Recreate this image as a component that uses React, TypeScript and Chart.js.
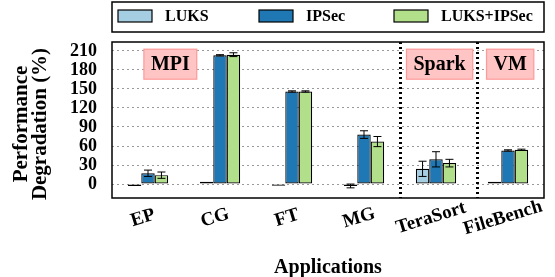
import React, { useEffect, useRef } from "react";
import { Chart, registerables } from "chart.js";

Chart.register(...registerables);

const categories = ["EP", "CG", "FT", "MG", "TeraSort", "FileBench"];
const seriesNames = ["LUKS", "IPSec", "LUKS+IPSec"];
const luksValues = [-3, 3.5, -2.5, -3, 24, 3.5];
const ipsecValues = [17, 203, 146, 78, 39, 53];
const bothValues = [14, 204, 146, 67, 33, 54];
const luksErrors = [0, 0, 0, 3, 12, 0];
const ipsecErrors = [5, 1, 1, 6, 12, 1];
const bothErrors = [5, 3, 1, 8, 6, 1];
const yTicks = [0, 30, 60, 90, 120, 150, 180, 210];
const groupLabels = ["MPI", "Spark", "VM"];
const groupLabelX = [0.31, 4.05, 5.03];
const groupLabelY = 189;
const dividerX = [3.5, 4.57];

const colors = ["#a6cee3", "#1f78b4", "#b2df8a"];
const FONT = "'Liberation Serif', 'Times New Roman', serif";

export default function App() {
  const ref = useRef<HTMLCanvasElement | null>(null);
  useEffect(() => {
    const canvas = ref.current;
    if (!canvas) return;
    const errors = [luksErrors, ipsecErrors, bothErrors];

    const custom = {
      id: "custom",
      afterDatasetsDraw(chart: any) {
        const ctx = chart.ctx;
        const y = chart.scales.y;
        ctx.save();
        ctx.strokeStyle = "#000";
        ctx.lineWidth = 1;
        chart.data.datasets.forEach((ds: any, di: number) => {
          const meta = chart.getDatasetMeta(di);
          meta.data.forEach((bar: any, i: number) => {
            const e = errors[di][i];
            if (!e) return;
            const v = ds.data[i];
            const y1 = y.getPixelForValue(v - e);
            const y2 = y.getPixelForValue(v + e);
            const x = bar.x;
            ctx.beginPath();
            ctx.moveTo(x, y1);
            ctx.lineTo(x, y2);
            ctx.moveTo(x - 4, y1);
            ctx.lineTo(x + 4, y1);
            ctx.moveTo(x - 4, y2);
            ctx.lineTo(x + 4, y2);
            ctx.stroke();
          });
        });
        ctx.restore();
      },
      afterDraw(chart: any) {
        const ctx = chart.ctx;
        const a = chart.chartArea;
        const xs = chart.scales.x;
        const ys = chart.scales.y;
        ctx.save();
        // dividers
        ctx.strokeStyle = "#000";
        ctx.lineWidth = 3;
        ctx.setLineDash([2, 3]);
        dividerX.forEach((v) => {
          const px = Math.round(xs.getPixelForValue(v)) + 0.5;
          ctx.beginPath();
          ctx.moveTo(px, a.top);
          ctx.lineTo(px, a.bottom);
          ctx.stroke();
        });
        ctx.setLineDash([]);
        // plot border
        ctx.lineWidth = 1.5;
        ctx.strokeRect(a.left, a.top, a.right - a.left, a.bottom - a.top);
        // group labels
        ctx.font = `bold 20px ${FONT}`;
        ctx.textAlign = "center";
        ctx.textBaseline = "middle";
        groupLabels.forEach((t, i) => {
          const cx = xs.getPixelForValue(groupLabelX[i]);
          const cy = ys.getPixelForValue(groupLabelY);
          const w = ctx.measureText(t).width + 14;
          const h = 30;
          ctx.fillStyle = "#ffc4c4";
          ctx.fillRect(cx - w / 2, cy - h / 2, w, h);
          ctx.strokeStyle = "#ff9a9a";
          ctx.lineWidth = 1.2;
          ctx.strokeRect(cx - w / 2, cy - h / 2, w, h);
          ctx.fillStyle = "#000";
          ctx.fillText(t, cx, cy + 1);
        });
        // x tick labels
        ctx.font = `bold 19px ${FONT}`;
        ctx.fillStyle = "#000";
        categories.forEach((c, i) => {
          const px = xs.getPixelForValue(i) - 5;
          ctx.save();
          ctx.translate(px, 218);
          ctx.rotate((-17 * Math.PI) / 180);
          ctx.textAlign = "center";
          ctx.textBaseline = "middle";
          ctx.fillText(c, 0, 0);
          ctx.restore();
        });
        // x title
        ctx.font = `bold 20px ${FONT}`;
        ctx.textAlign = "center";
        ctx.textBaseline = "middle";
        ctx.fillText("Applications", (a.left + a.right) / 2, 268);
        // y title
        ctx.save();
        ctx.translate(0, (a.top + a.bottom) / 2 + 4);
        ctx.rotate(-Math.PI / 2);
        ctx.font = `bold 21px ${FONT}`;
        ctx.fillText("Performance", 0, 22);
        ctx.fillText("Degradation (%)", 0, 41);
        ctx.restore();
        // legend
        const lt = 2, lb = 32;
        ctx.lineWidth = 1.5;
        ctx.strokeStyle = "#000";
        ctx.strokeRect(a.left, lt, a.right - a.left, lb - lt);
        const offs = [6, 147, 282];
        ctx.font = `bold 16px ${FONT}`;
        ctx.textAlign = "left";
        ctx.textBaseline = "middle";
        seriesNames.forEach((n, i) => {
          const sx = a.left + offs[i];
          const sy = 16;
          ctx.fillStyle = colors[i];
          ctx.fillRect(sx, sy - 6, 34, 12);
          ctx.lineWidth = 1.2;
          ctx.strokeRect(sx, sy - 6, 34, 12);
          ctx.fillStyle = "#000";
          ctx.fillText(n, sx + 47, sy + 1);
        });
        ctx.restore();
      },
    };

    const chart = new Chart(canvas, {
      type: "bar",
      data: {
        labels: categories,
        datasets: [
          { label: seriesNames[0], data: luksValues, backgroundColor: colors[0] },
          { label: seriesNames[1], data: ipsecValues, backgroundColor: colors[1] },
          { label: seriesNames[2], data: bothValues, backgroundColor: colors[2] },
        ].map((d) => ({
          ...d,
          borderColor: "#000",
          borderWidth: 1.2,
          borderSkipped: false,
          categoryPercentage: 0.56,
          barPercentage: 1,
        })),
      },
      options: {
        responsive: false,
        animation: false,
        layout: { padding: { top: 42, right: 11, left: 0, bottom: 0 } },
        plugins: { legend: { display: false }, tooltip: { enabled: false } },
        scales: {
          x: {
            grid: { display: false },
            border: { display: false },
            ticks: { display: false },
            afterFit: (s: any) => {
              s.height = 79;
            },
          },
          y: {
            min: -22,
            max: 224,
            afterBuildTicks: (s: any) => {
              s.ticks = yTicks.map((v) => ({ value: v }));
            },
            afterFit: (s: any) => {
              s.width = 112;
            },
            grid: {
              color: "#9a9a9a",
              lineWidth: 1,
              drawTicks: false,
            },
            border: { display: false, dash: [2, 3] },
            ticks: {
              autoSkip: false,
              padding: 15,
              color: "#000",
              font: { family: FONT, size: 18, weight: "bold" },
            },
          },
        },
      },
      plugins: [custom],
    } as any);
    return () => chart.destroy();
  }, []);
  return (
    <div style={{ position: "fixed", left: 0, top: 0, width: 555, height: 277 }}>
      <canvas ref={ref} width={555} height={277} style={{ width: 555, height: 277 }} />
    </div>
  );
}
